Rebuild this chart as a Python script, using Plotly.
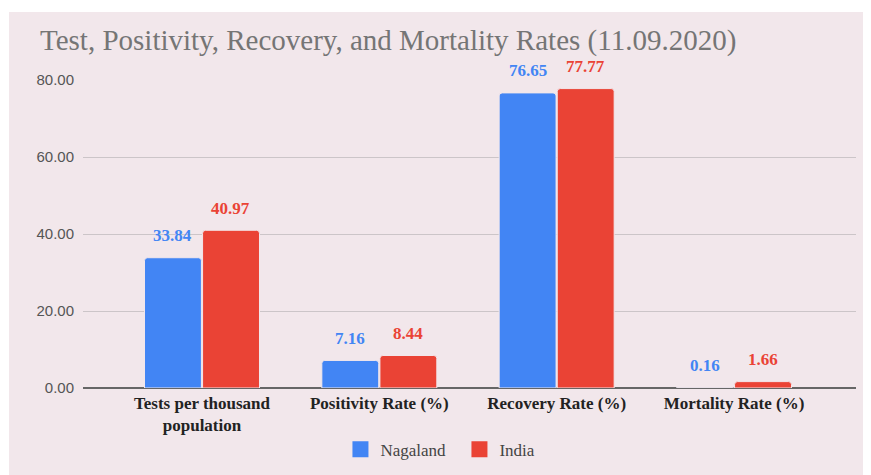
import plotly.graph_objects as go

categories = ["Tests per thousand<br>population", "Positivity Rate (%)", "Recovery Rate (%)", "Mortality Rate (%)"]
nagaland = [33.84, 7.16, 76.65, 0.16]
india = [40.97, 8.44, 77.77, 1.66]
series_names = ["Nagaland", "India"]
colors = ["#4285F4", "#EA4335"]
y_ticks = [0, 20, 40, 60, 80]

BG = "#F2E7EB"
fig = go.Figure()
for name, vals, col in zip(series_names, [nagaland, india], colors):
    fig.add_trace(go.Bar(
        name=name, x=categories, y=vals, showlegend=False,
        marker=dict(color=col, line=dict(color=BG, width=1)),
    ))
# legend entries with larger square swatches
for name, col in zip(series_names, colors):
    fig.add_trace(go.Scatter(
        name=name, x=[None], y=[None], mode="markers",
        marker=dict(symbol="square", size=17, color=col),
    ))

# value labels
for i, (vals, col) in enumerate(zip([nagaland, india], colors)):
    shift = -29 if i == 0 else 29
    for c, v in zip(categories, vals):
        fig.add_annotation(
            x=c, y=v, xshift=shift, yshift=22, text=f"{v:.2f}", showarrow=False,
            font=dict(family="Liberation Serif", size=17, color=col, weight="bold"),
        )

# pink card background
fig.add_shape(type="rect", xref="paper", yref="paper", x0=-0.0957, x1=1.1, y0=-0.5, y1=1.2208,
              fillcolor=BG, line=dict(width=0), layer="below")

fig.update_layout(
    width=871, height=475,
    paper_bgcolor="white", plot_bgcolor=BG,
    margin=dict(l=75, r=23, t=72, b=95),
    barmode="group", bargap=0.345, bargroupgap=0.02,
    barcornerradius=3,
    title=dict(text="Test, Positivity, Recovery, and Mortality Rates (11.09.2020)",
               x=32/871, xanchor="left", y=1-32/475, yanchor="middle",
               font=dict(family="Liberation Serif", size=29, color="#757575")),
    legend=dict(orientation="h", x=0.487, xanchor="center", y=-0.2, yanchor="middle",
                entrywidth=74, entrywidthmode="pixels",
                font=dict(family="Liberation Serif", size=17, color="#444444"),
                bgcolor="rgba(0,0,0,0)", itemclick=False, itemdoubleclick=False),
    showlegend=True,
)
fig.update_xaxes(range=[-0.671, 3.688], showgrid=False,
                 tickfont=dict(family="Liberation Serif", size=17, color="#222222", weight="bold"),
                 ticks="", fixedrange=True, ticklabelstandoff=3)
fig.update_yaxes(range=[0, 80], tickvals=y_ticks, tickformat=".2f", showgrid=True, gridcolor="#CCC5C8", gridwidth=1,
                 zeroline=True, zerolinecolor="#666666", zerolinewidth=2,
                 tickfont=dict(family="Liberation Sans", size=15, color="#555555"), ticklabelstandoff=8)

fig.write_html("out.html")
